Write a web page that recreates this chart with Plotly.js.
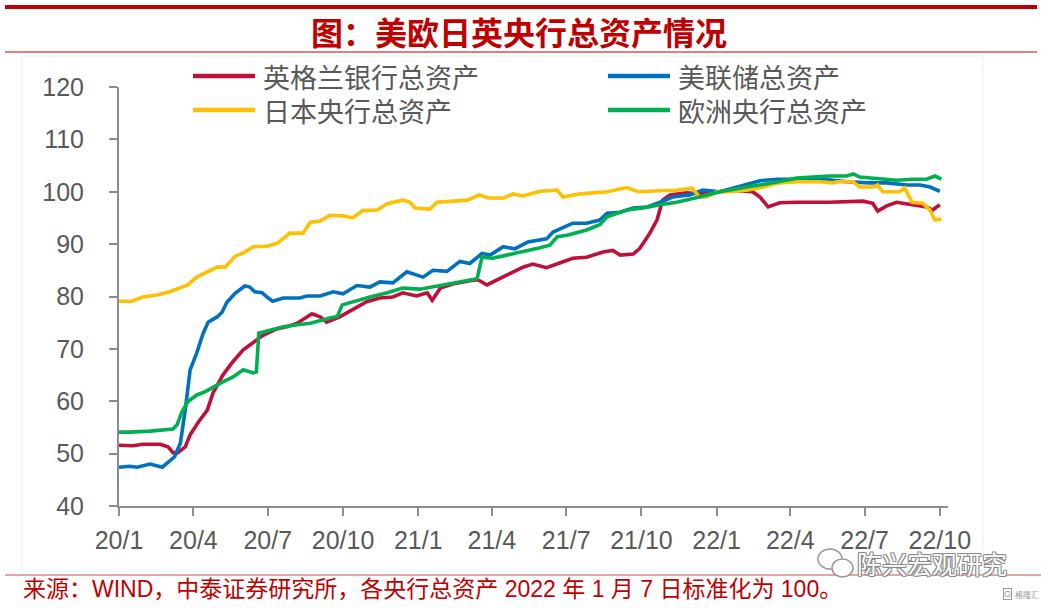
<!DOCTYPE html>
<html>
<head>
<meta charset="utf-8">
<script src="https://cdn.plot.ly/plotly-3.0.1.min.js"></script>
<style>
html,body{margin:0;padding:0;background:#fff;}
#chart{width:1041px;height:610px;}
</style>
</head>
<body>
<div id="chart"></div>
<script>
// ---------------- data ----------------
const seriesNames = ['英格兰银行总资产', '美联储总资产', '日本央行总资产', '欧洲央行总资产'];
const seriesColors = ['#C0103A', '#0070C0', '#FFC000', '#00B050'];

const tickDates = ['2020-01-01','2020-04-01','2020-07-01','2020-10-01','2021-01-01','2021-04-01',
                   '2021-07-01','2021-10-01','2022-01-01','2022-04-01','2022-07-01','2022-10-01'];
const tickLabels = ['20/1','20/4','20/7','20/10','21/1','21/4','21/7','21/10','22/1','22/4','22/7','22/10'];

const boeDates = ['2020-01-01','2020-01-18','2020-01-30','2020-02-20','2020-03-01','2020-03-07','2020-03-13','2020-03-22','2020-03-28','2020-04-07',
  '2020-04-18','2020-04-25','2020-05-07','2020-05-19','2020-06-01','2020-06-13','2020-06-25','2020-07-12','2020-07-24','2020-08-06',
  '2020-08-24','2020-09-03','2020-09-11','2020-09-27','2020-10-13','2020-10-30','2020-11-15','2020-12-01','2020-12-13','2020-12-30',
  '2021-01-12','2021-01-18','2021-01-28','2021-02-12','2021-03-05','2021-03-15','2021-03-26','2021-04-11','2021-04-27','2021-05-09',
  '2021-05-21','2021-06-07','2021-06-23','2021-07-09','2021-07-26','2021-08-15','2021-08-27','2021-09-05','2021-09-21','2021-09-29',
  '2021-10-11','2021-10-20','2021-10-27','2021-11-05','2021-11-26','2021-12-11','2021-12-27','2022-01-17','2022-02-14','2022-02-23',
  '2022-03-05','2022-03-19','2022-04-09','2022-05-19','2022-06-29','2022-07-11','2022-07-17','2022-07-28','2022-08-09','2022-08-29',
  '2022-09-15','2022-09-22','2022-10-01'];
const boeValues = [51.6,51.5,51.8,51.8,51.3,50.2,50.2,51.3,53.6,56.0,
  58.3,61.6,65.0,67.5,69.8,71.3,72.6,73.8,74.2,74.9,
  76.7,76.1,75.1,76.1,77.6,79.0,79.7,79.9,80.7,80.1,
  80.7,79.3,81.6,82.4,83.0,83.2,82.2,83.5,84.7,85.6,
  86.2,85.5,86.4,87.3,87.5,88.5,88.8,87.9,88.1,89.2,
  92.0,94.6,98.4,99.4,99.8,99.6,99.8,100.3,100.0,99.0,
  97.1,97.9,98.0,98.0,98.2,97.8,96.3,97.3,98.0,97.5,
  97.1,96.5,97.5];

const fedDates = ['2020-01-01','2020-01-14','2020-01-23','2020-02-08','2020-02-23','2020-03-01','2020-03-09','2020-03-16','2020-03-22','2020-03-28',
  '2020-04-05','2020-04-13','2020-04-19','2020-04-30','2020-05-06','2020-05-12','2020-05-22','2020-06-03','2020-06-09','2020-06-15',
  '2020-06-24','2020-06-30','2020-07-07','2020-07-20','2020-08-09','2020-08-18','2020-09-03','2020-09-19','2020-10-01','2020-10-18',
  '2020-11-03','2020-11-15','2020-12-01','2020-12-18','2021-01-07','2021-01-19','2021-02-05','2021-02-21','2021-03-05','2021-03-20',
  '2021-03-30','2021-04-15','2021-04-29','2021-05-15','2021-06-07','2021-06-15','2021-07-09','2021-07-26','2021-08-11','2021-08-20',
  '2021-09-05','2021-09-21','2021-10-08','2021-10-24','2021-11-08','2021-11-29','2021-12-15','2022-01-05','2022-01-25','2022-02-23',
  '2022-03-16','2022-04-04','2022-04-29','2022-05-19','2022-06-09','2022-07-07','2022-07-28','2022-08-22','2022-09-07','2022-09-19',
  '2022-10-01'];
const fedValues = [47.4,47.6,47.4,48.0,47.4,48.4,49.4,52.0,58.3,66.0,
  69.2,73.0,75.1,76.1,77.0,78.9,80.6,82.0,81.8,80.9,
  80.7,79.9,79.1,79.7,79.7,80.1,80.1,80.9,80.5,82.1,
  81.8,82.8,82.6,84.7,83.7,85.0,84.8,86.7,86.3,88.2,
  87.9,89.5,89.1,90.4,91.0,92.3,94.0,94.0,94.6,95.9,
  96.1,96.9,97.1,98.0,99.0,99.4,100.3,100.0,100.9,102.1,
  102.4,102.4,102.6,102.2,101.9,101.7,101.7,101.3,101.3,100.9,
  100.1];

const bojDates = ['2020-01-01','2020-01-17','2020-01-30','2020-02-16','2020-03-03','2020-03-18','2020-03-25','2020-04-05','2020-04-18','2020-04-30',
  '2020-05-10','2020-05-22','2020-06-01','2020-06-13','2020-06-30','2020-07-13','2020-07-28','2020-08-13','2020-08-22','2020-09-03',
  '2020-09-15','2020-10-01','2020-10-13','2020-10-25','2020-11-12','2020-11-24','2020-12-13','2020-12-22','2020-12-28','2021-01-15',
  '2021-01-24','2021-02-09','2021-03-02','2021-03-17','2021-03-27','2021-04-15','2021-04-27','2021-05-09','2021-05-30','2021-06-20',
  '2021-06-27','2021-07-18','2021-08-03','2021-08-20','2021-09-13','2021-09-27','2021-10-24','2021-11-13','2021-12-02','2021-12-11',
  '2021-12-20','2022-01-01','2022-01-17','2022-02-07','2022-02-27','2022-03-19','2022-04-09','2022-05-07','2022-05-23','2022-05-29',
  '2022-06-17','2022-06-25','2022-07-11','2022-07-17','2022-07-23','2022-08-13','2022-08-19','2022-08-28','2022-09-10','2022-09-19',
  '2022-09-25','2022-10-03'];
const bojValues = [79.1,79.1,79.9,80.3,80.9,81.9,82.2,83.7,84.7,85.6,
  85.6,87.7,88.3,89.5,89.6,90.2,92.1,92.1,94.2,94.4,
  95.5,95.4,95.0,96.4,96.5,97.7,98.4,98.0,96.9,96.7,
  98.0,98.1,98.4,99.4,98.8,98.8,99.6,99.2,100.1,100.3,
  99.0,99.6,99.8,100.0,100.8,100.0,100.2,100.3,100.7,99.0,
  99.0,100.0,100.0,100.3,100.9,101.7,101.9,101.9,101.7,101.9,
  101.9,100.9,100.9,101.3,100.0,100.0,100.7,98.0,97.8,96.5,
  94.6,94.8];

const ecbDates = ['2020-01-01','2020-01-14','2020-02-08','2020-02-24','2020-03-07','2020-03-12','2020-03-18','2020-03-25','2020-04-05','2020-04-15',
  '2020-04-25','2020-05-07','2020-05-19','2020-06-01','2020-06-13','2020-06-17','2020-06-20','2020-07-04','2020-07-20','2020-08-06',
  '2020-08-22','2020-09-15','2020-09-24','2020-09-30','2020-10-13','2020-11-03','2020-11-24','2020-12-13','2021-01-03','2021-01-24',
  '2021-02-12','2021-03-02','2021-03-14','2021-03-20','2021-04-02','2021-04-19','2021-05-09','2021-05-30','2021-06-11','2021-06-20',
  '2021-07-02','2021-07-26','2021-08-11','2021-08-20','2021-09-13','2021-10-03','2021-10-24','2021-11-13','2021-12-11','2022-01-05',
  '2022-02-07','2022-03-11','2022-04-09','2022-04-29','2022-05-19','2022-06-09','2022-06-17','2022-06-25','2022-07-20','2022-08-09',
  '2022-08-29','2022-09-15','2022-09-25','2022-10-03'];
const ecbValues = [54.1,54.1,54.3,54.5,54.7,55.5,58.0,59.9,61.2,61.8,
  62.7,63.7,64.6,66.0,65.4,65.6,73.0,73.6,74.2,74.6,
  74.9,75.9,76.2,78.4,79.0,79.9,80.7,81.6,81.4,82.0,
  82.6,83.2,83.4,87.5,87.3,87.9,88.5,89.3,89.8,91.4,
  91.7,92.7,93.7,95.2,96.5,96.9,97.5,98.0,99.0,100.0,
  100.9,101.7,102.6,102.8,103.0,103.0,103.4,102.8,102.4,102.2,
  102.4,102.4,103.0,102.4];

const chartTitle = '图：美欧日英央行总资产情况';
const sourceNote = '来源：WIND，中泰证券研究所，各央行总资产 2022 年 1 月 7 日标准化为 100。';
const watermark = '陈兴宏观研究';

// ---------------- layout helpers ----------------
const W = 1041, H = 610;
const L = 119, R = 948, T = 87, B = 506;
const px = x => (x - L) / (R - L);
const py = y => (B - y) / (B - T);

const seriesX = [boeDates, fedDates, bojDates, ecbDates];
const seriesY = [boeValues, fedValues, bojValues, ecbValues];

const traces = seriesNames.map((name, i) => ({
  type: 'scatter', mode: 'lines', name: name,
  x: seriesX[i], y: seriesY[i],
  line: {color: seriesColors[i], width: 3.6},
  showlegend: false, hoverinfo: 'skip'
}));

const shapes = [];
const annotations = [];

// top red bars
shapes.push({type:'line', xref:'paper', yref:'paper', x0:px(5), x1:px(1037), y0:py(7), y1:py(7), line:{color:'#C00000', width:4}});
shapes.push({type:'line', xref:'paper', yref:'paper', x0:px(5), x1:px(1037), y0:py(52), y1:py(52), line:{color:'#C00000', width:1.2}});
// faint frame
shapes.push({type:'rect', xref:'paper', yref:'paper', x0:px(22), x1:px(983), y0:py(56), y1:py(571), line:{color:'#efefef', width:1}, layer:'below'});
// footer line
shapes.push({type:'line', xref:'paper', yref:'paper', x0:px(5), x1:px(1041), y0:py(575), y1:py(575), line:{color:'#D24A4A', width:1}});

// title
annotations.push({xref:'paper', yref:'paper', x:px(519), y:py(31), text:chartTitle, showarrow:false,
  xanchor:'center', yanchor:'middle',
  font:{family:'"Noto Sans CJK SC", sans-serif', size:32, color:'#C00000', weight:700}});

// legend (manual, 2 columns)
const legPos = [[193, 76], [608, 76], [193, 110], [608, 110]];
seriesNames.forEach((name, i) => {
  const [lx, ly] = legPos[i];
  shapes.push({type:'line', xref:'paper', yref:'paper', x0:px(lx), x1:px(lx + 62), y0:py(ly), y1:py(ly),
    line:{color:seriesColors[i], width:4.5}});
  annotations.push({xref:'paper', yref:'paper', x:px(lx + 68), y:py(ly), text:name, showarrow:false,
    xanchor:'left', yanchor:'middle',
    font:{family:'"Noto Sans CJK SC", sans-serif', size:27, color:'#595959'}});
});

// footer
annotations.push({xref:'paper', yref:'paper', x:px(21), y:py(589), text:sourceNote, showarrow:false,
  xanchor:'left', yanchor:'middle',
  font:{family:'"Liberation Sans", "Noto Sans CJK SC", sans-serif', size:23, color:'#C00000'}});

// watermark
shapes.push({type:'circle', xref:'paper', yref:'paper', x0:px(818), x1:px(842), y0:py(569), y1:py(549), line:{color:'#9a9a9a', width:1.5}, fillcolor:'#ffffff'});
shapes.push({type:'circle', xref:'paper', yref:'paper', x0:px(832), x1:px(853), y0:py(577), y1:py(559), line:{color:'#9a9a9a', width:1.5}, fillcolor:'#ffffff'});
annotations.push({xref:'paper', yref:'paper', x:px(932), y:py(563), text:watermark, showarrow:false,
  xanchor:'center', yanchor:'middle',
  font:{family:'"Noto Sans CJK SC", sans-serif', size:25, color:'#ffffff',
        shadow:'1px 1px 0 #8a8a8a, -1px -1px 0 #8a8a8a, 1px -1px 0 #8a8a8a, -1px 1px 0 #8a8a8a'}});
annotations.push({xref:'paper', yref:'paper', x:px(1007), y:py(594), text:'G', showarrow:false,
  xanchor:'center', yanchor:'middle', bordercolor:'#9a9a9a', borderwidth:1, borderpad:0,
  font:{family:'"Liberation Sans", sans-serif', size:9, color:'#9a9a9a'}});
annotations.push({xref:'paper', yref:'paper', x:px(1013), y:py(594), text:'格隆汇', showarrow:false,
  xanchor:'left', yanchor:'middle',
  font:{family:'"Noto Sans CJK SC", sans-serif', size:8, color:'#9a9a9a'}});

const axisFont = {family:'"Liberation Sans", Arial, sans-serif', size:25, color:'#595959'};

const layout = {
  width: W, height: H,
  margin: {l: L, r: W - R, t: T, b: H - B, pad: 0},
  paper_bgcolor: '#ffffff', plot_bgcolor: '#ffffff',
  showlegend: false,
  xaxis: {
    type: 'date', range: ['2020-01-01', '2022-10-11'],
    tickmode: 'array', tickvals: tickDates, ticktext: tickLabels,
    showgrid: false, zeroline: false,
    showline: true, linecolor: '#8c8c8c', linewidth: 2,
    ticks: 'outside', ticklen: 8, tickwidth: 2, tickcolor: '#8c8c8c',
    tickfont: axisFont, ticklabelstandoff: 3, fixedrange: true
  },
  yaxis: {
    range: [40, 120], dtick: 10, tick0: 40,
    showgrid: false, zeroline: false,
    showline: true, linecolor: '#8c8c8c', linewidth: 2,
    ticks: 'outside', ticklen: 8, tickwidth: 2, tickcolor: '#8c8c8c',
    tickfont: axisFont, ticklabelstandoff: 20, fixedrange: true
  },
  shapes: shapes,
  annotations: annotations
};

Plotly.newPlot('chart', traces, layout, {staticPlot: true, displayModeBar: false});
</script>
</body>
</html>
